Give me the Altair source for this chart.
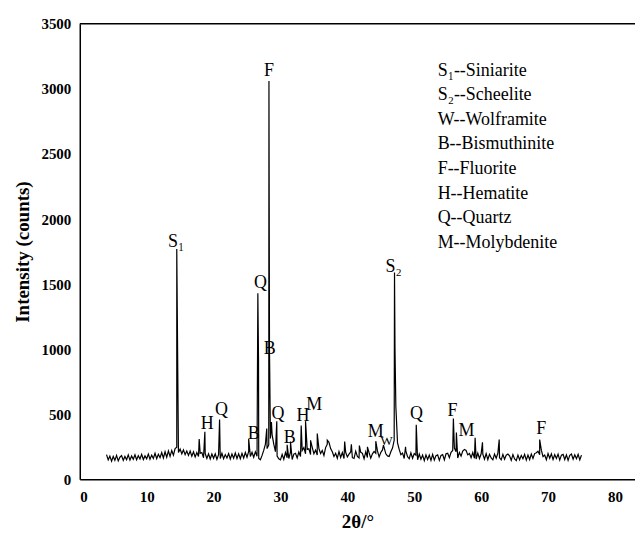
import altair as alt
import pandas as pd

# ---- data ----
base_start = 4.0
base_step = 0.25
baseline = [
    190, 150, 178, 140, 176, 146, 184, 142, 170,
    182, 146, 176, 150, 188, 148, 180, 154,
    188, 150, 182, 156, 192, 152, 180, 158,
    194, 154, 186, 160, 200, 158, 192, 166,
    206, 164, 212, 170, 218, 176, 222, 186,
    236, 246, 206, 232, 196, 226, 190, 218,
    184, 218, 178, 212, 172, 206, 176, 200,
    206, 166, 198, 160, 196, 156, 194, 162,
    196, 154, 190, 160, 200, 158, 190, 164,
    198, 156, 194, 162, 202, 160, 196, 158,
    200, 164, 206, 170, 214, 176, 208, 170,
    212, 178, 160, 150, 184, 222, 270, 236,
    264, 314, 344, 270, 212, 178, 158, 150,
    192, 154, 206, 166, 160, 208, 152, 194,
    200, 164, 210, 176, 222, 244, 196, 230,
    234, 190, 246, 196, 224, 186, 236, 198,
    222, 184, 244, 270, 284, 236, 212, 176,
    200, 162, 214, 168, 206, 160, 208, 172,
    194, 210, 166, 160, 216, 176, 164, 208,
    200, 158, 212, 168, 204, 162, 196, 214,
    200, 218, 172, 206, 226, 244, 196, 180,
    176, 212, 240, 300, 560, 280, 230, 190,
    202, 160, 216, 174, 158, 204, 162, 198,
    186, 150, 194, 154, 186, 144, 188, 152,
    186, 146, 192, 148, 182, 188, 146, 184,
    190, 150, 196, 200, 166, 208, 222, 240,
    212, 164, 206, 178, 218, 230, 222, 188,
    198, 166, 206, 162, 156, 202, 160, 196,
    194, 154, 198, 152, 192, 164, 150, 194,
    162, 200, 166, 150, 192, 154, 186, 194,
    180, 146, 190, 156, 144, 186, 150, 184,
    158, 192, 148, 186, 152, 194, 160, 198,
    204, 216, 188, 224, 174, 186, 150, 198,
    162, 196, 152, 190, 160, 194, 148, 186,
    192, 152, 188, 146, 184, 194, 154, 188,
    158, 192, 150, 186,
]

peak_pos = [14.5, 17.85, 18.7, 20.9, 25.25, 26.62, 26.72, 27.95, 28.28, 28.36,
            28.65, 29.45, 31.0, 31.5, 33.1, 33.75, 34.5, 35.5, 37.0, 39.6,
            40.6, 41.8, 43.0, 44.25, 45.4, 47.05, 47.12, 48.7, 50.3, 55.85,
            56.3, 59.1, 60.2, 62.7, 68.75]
peak_int = [1770, 310, 365, 460, 310, 1430, 930, 390, 3060, 1000,
            440, 447, 265, 290, 413, 447, 300, 352, 300, 290,
            270, 260, 250, 293, 263, 1590, 1010, 250, 420, 467,
            360, 320, 285, 306, 306]

label_text = ["S\u2081", "F", "Q", "B", "Q", "H", "B", "Q", "B", "H", "M",
              "M", "W", "S\u2082", "Q", "F", "M", "F"]
label_x = [14.4, 28.3, 27.0, 28.4, 21.2, 19.05, 26.0, 29.63, 31.37, 33.36, 35.05,
           44.23, 45.87, 46.9, 50.35, 55.7, 57.8, 68.97]
label_y = [1822, 3139, 1506, 1003, 531, 426, 352, 503, 314, 485, 574,
           362, 293, 1631, 505, 523, 370, 388]
label_size = [18, 18, 18, 18, 18, 18, 18, 18, 18, 18, 18,
              18, 13, 18, 18, 18, 18, 18]

legend_lines = ["S\u2081--Siniarite", "S\u2082--Scheelite", "W--Wolframite",
                "B--Bismuthinite", "F--Fluorite", "H--Hematite", "Q--Quartz",
                "M--Molybdenite"]
legend_x = 53.5
legend_y = [3139, 2953, 2764, 2573, 2381, 2195, 2004, 1812]

x_ticks = [0, 10, 20, 30, 40, 50, 60, 70, 80]
y_ticks = [0, 500, 1000, 1500, 2000, 2500, 3000, 3500]

# ---- tables ----
xs = [base_start + base_step * i for i in range(len(baseline))]
pts = sorted(list(zip(xs, baseline)) + list(zip(peak_pos, peak_int)))
df = pd.DataFrame(pts, columns=["x", "y"])
labels = pd.DataFrame({"t": label_text, "x": label_x, "y": label_y, "s": label_size})
legend = pd.DataFrame({"t": legend_lines, "x": [legend_x] * len(legend_lines), "y": legend_y})

FONT = "Liberation Serif"
xscale = alt.Scale(domain=[0, 83], nice=False, zero=False)
yscale = alt.Scale(domain=[0, 3500], nice=False)

axis_common = dict(grid=False, ticks=False, tickSize=0,
                   labelFont=FONT, labelFontWeight="bold", labelFontSize=15, labelColor="black",
                   titleFont=FONT, titleFontWeight="bold", titleFontSize=19, titleColor="black",
                   domainColor="black", domainWidth=1.5)

line = alt.Chart(df).mark_line(color="black", strokeWidth=1.2).encode(
    x=alt.X("x:Q", scale=xscale,
            axis=alt.Axis(values=x_ticks, title="2θ/°", labelPadding=10, titlePadding=8,
                          **axis_common)),
    y=alt.Y("y:Q", scale=yscale,
            axis=alt.Axis(values=y_ticks, format="d", title="Intensity (counts)",
                          labelPadding=9, titlePadding=8, **axis_common)),
)

top = alt.Chart(pd.DataFrame({"y": [3500]})).mark_rule(color="black", strokeWidth=1.5).encode(
    y=alt.Y("y:Q", scale=yscale)
)

peak_labels = alt.Chart(labels).mark_text(font=FONT, color="black", baseline="middle",
                                          align="center").encode(
    x=alt.X("x:Q", scale=xscale), y=alt.Y("y:Q", scale=yscale), text="t:N",
    size=alt.Size("s:Q", scale=None, legend=None))

legend_text = alt.Chart(legend).mark_text(font=FONT, color="black", baseline="middle",
                                          align="left", fontSize=18).encode(
    x=alt.X("x:Q", scale=xscale), y=alt.Y("y:Q", scale=yscale), text="t:N")

chart = alt.layer(line, top, peak_labels, legend_text).properties(
    width=557, height=457,
    autosize=alt.AutoSizeParams(type="none"),
    padding={"left": 72, "top": 15, "right": 0, "bottom": 52},
    background="white",
).configure(font=FONT).configure_view(stroke=None)

chart.save("out.html", embed_options={"renderer": "svg", "actions": False})
